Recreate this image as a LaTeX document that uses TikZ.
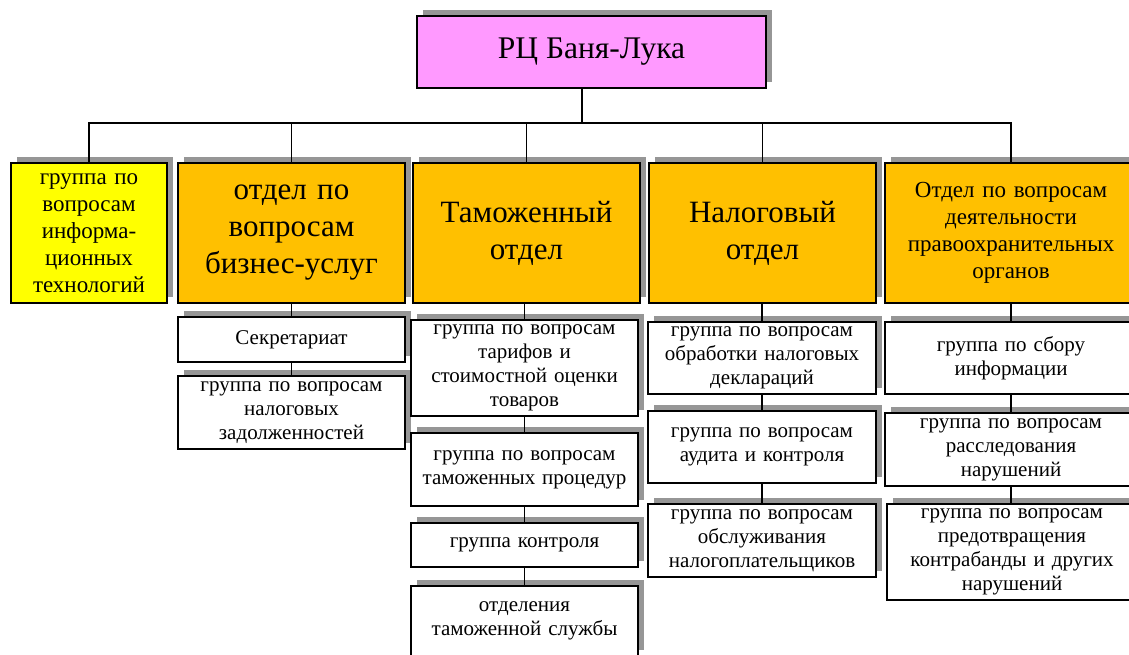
\documentclass[tikz,border=0pt]{standalone}
\usepackage{fontspec}
\setmainfont{Liberation Serif}
\usetikzlibrary{shadows}
\definecolor{shadowgray}{RGB}{150,150,150}
\definecolor{pinkbox}{RGB}{255,153,255}
\definecolor{orangebox}{RGB}{255,192,0}
\definecolor{yellowbox}{RGB}{255,255,0}
\tikzset{
  orgbox/.style={draw=black, line width=1.6pt, fill=white, align=center, inner sep=0pt,
    general shadow={fill=shadowgray, shadow xshift=6pt, shadow yshift=6pt}},
  topfont/.style={font=\fontsize{31.5}{37}\selectfont},
  bigfont/.style={font=\fontsize{31}{37}\selectfont},
  midfont/.style={font=\fontsize{23}{27}\selectfont},
  smallfont/.style={font=\fontsize{21}{24}\selectfont},
  link/.style={line width=1.5pt, draw=black},
}
\begin{document}
\begin{tikzpicture}[x=1pt, y=-1pt]
\useasboundingbox (0,0) rectangle (1129,655);
% top
\node[orgbox, fill=pinkbox, topfont, minimum width=349pt, minimum height=72pt] (top) at (591.5,52) {РЦ Баня-Лука};
% level 1
\node[orgbox, fill=yellowbox, midfont, minimum width=156pt, minimum height=140pt, text width=150pt] (it) at (89,233) {группа по\\вопросам\\информа-\\ционных\\технологий};
\node[orgbox, fill=orangebox, bigfont, minimum width=227pt, minimum height=140pt, text width=220pt] (biz) at (291.5,233) {\raisebox{-6pt}{\parbox{220pt}{\centering отдел по\\вопросам\\бизнес-услуг}}};
\node[orgbox, fill=orangebox, bigfont, minimum width=227pt, minimum height=140pt, text width=220pt] (tam) at (526.5,233) {Таможенный\\отдел};
\node[orgbox, fill=orangebox, bigfont, minimum width=227pt, minimum height=140pt, text width=220pt] (nal) at (762.5,233) {Налоговый\\отдел};
\node[orgbox, fill=orangebox, midfont, minimum width=252pt, minimum height=140pt, text width=245pt] (pra) at (1011,233) {Отдел по вопросам\\деятельности\\правоохранительных\\органов};
% business column
\node[orgbox, smallfont, minimum width=227pt, minimum height=45pt, text width=220pt] (sec) at (291.5,339.5) {Секретариат};
\node[orgbox, smallfont, minimum width=227pt, minimum height=73pt, text width=220pt] (zad) at (291.5,412.5) {группа по вопросам\\налоговых\\задолженностей};
% customs column
\node[orgbox, smallfont, minimum width=227pt, minimum height=96pt, text width=222pt] (t1) at (524.5,368) {группа по вопросам\\тарифов и\\стоимостной оценки\\товаров};
\node[orgbox, smallfont, minimum width=227pt, minimum height=73pt, text width=222pt] (t2) at (524.5,469.5) {группа по вопросам\\таможенных процедур};
\node[orgbox, smallfont, minimum width=227pt, minimum height=44pt, text width=222pt] (t3) at (524.5,545) {группа контроля};
\node[orgbox, smallfont, minimum width=227pt, minimum height=70pt, text width=222pt] (t4) at (524.5,621) {отделения\\таможенной службы};
% tax column
\node[orgbox, smallfont, minimum width=228pt, minimum height=72pt, text width=222pt] (n1) at (762,358) {группа по вопросам\\обработки налоговых\\деклараций};
\node[orgbox, smallfont, minimum width=228pt, minimum height=72pt, text width=222pt] (n2) at (762,447) {группа по вопросам\\аудита и контроля};
\node[orgbox, smallfont, minimum width=228pt, minimum height=73pt, text width=222pt] (n3) at (762,540.5) {группа по вопросам\\обслуживания\\налогоплательщиков};
% law enforcement column
\node[orgbox, smallfont, minimum width=252pt, minimum height=72pt, text width=245pt] (p1) at (1011,358) {группа по сбору\\информации};
\node[orgbox, smallfont, minimum width=252pt, minimum height=73pt, text width=245pt] (p2) at (1011,449.5) {группа по вопросам\\расследования\\нарушений};
\node[orgbox, smallfont, minimum width=250pt, minimum height=96pt, text width=245pt] (p3) at (1012,552) {группа по вопросам\\предотвращения\\контрабанды и других\\нарушений};
% connectors
\coordinate (bus) at (582,123);
\draw[link] (top.south -| bus) -- (bus);
\draw[link] (it.north) |- (bus) -| (pra.north);
\draw[link] (biz.north) -- (biz.north |- bus);
\draw[link] (tam.north) -- (tam.north |- bus);
\draw[link] (nal.north) -- (nal.north |- bus);
\draw[link] (biz.south) -- (sec.north);
\draw[link] (sec.south) -- (zad.north);
\draw[link] (t1.north |- tam.south) -- (t1.north);
\draw[link] (t1.south) -- (t2.north);
\draw[link] (t2.south) -- (t3.north);
\draw[link] (t3.south) -- (t4.north);
\draw[link] (n1.north |- nal.south) -- (n1.north);
\draw[link] (n1.south) -- (n2.north);
\draw[link] (n2.south) -- (n3.north);
\draw[link] (pra.south) -- (p1.north);
\draw[link] (p1.south) -- (p2.north);
\draw[link] (p2.south) -- (p3.north -| p2.south);
\end{tikzpicture}
\end{document}
